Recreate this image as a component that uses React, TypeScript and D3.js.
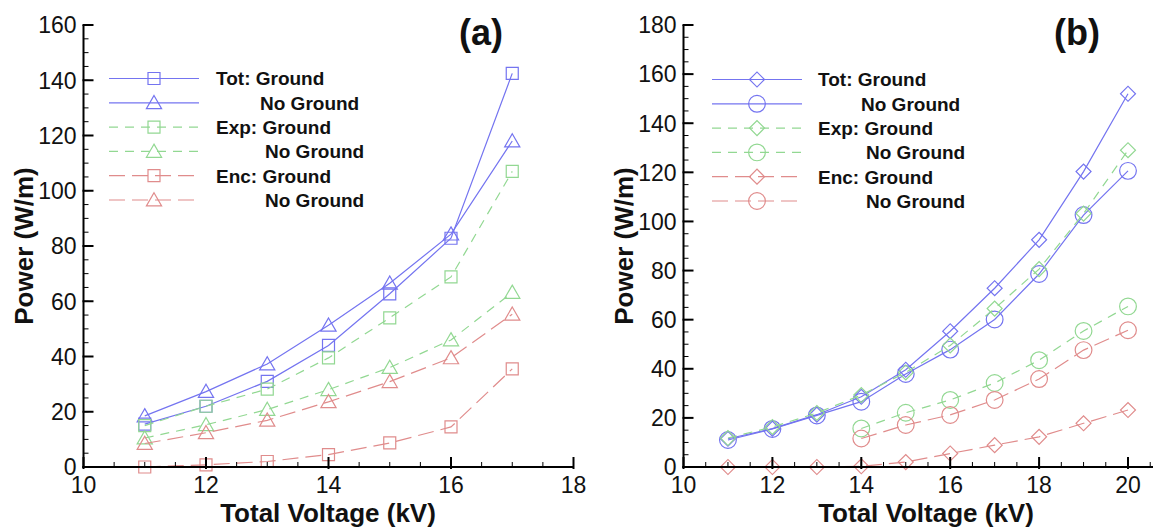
import React from 'react';
import * as d3 from 'd3';

// ---------- Data: panel (a) ----------
const voltageA = [11, 12, 13, 14, 15, 16, 17];
const totGroundA = [15.5, 22, 31, 44, 62.7, 82.8, 142.5];
const totNoGroundA = [18.5, 27.3, 37.3, 51.3, 66.5, 84.3, 118];
const expGroundA = [15, 22, 28.2, 39.5, 54, 68.8, 107];
const expNoGroundA = [10.5, 15.3, 20.8, 28, 36, 46, 63.2];
const encGroundA = [0, 0.8, 2, 4.5, 8.7, 14.5, 35.5];
const encNoGroundA = [8.5, 12.4, 16.9, 23.6, 30.9, 39.5, 55.3];

// ---------- Data: panel (b) ----------
const voltageB = [11, 12, 13, 14, 15, 16, 17, 18, 19, 20];
const voltageB2 = [14, 15, 16, 17, 18, 19, 20];
const totGroundB = [11.5, 15.6, 21.3, 28.6, 39.6, 55.3, 72.8, 92.5, 120.3, 152];
const totNoGroundB = [11, 15.5, 21, 26.6, 37.9, 47.8, 60.1, 78.6, 102.6, 120.6];
const expGroundB = [11.8, 16.3, 22, 29.3, 38.5, 49.5, 64.5, 80.6, 103.2, 129];
const expNoGroundB = [15.7, 22.1, 27.3, 34.2, 43.5, 55.4, 65.4];
const encGroundB = [0, 0, 0, 0.3, 2, 5.5, 8.9, 12.3, 17.8, 23.2];
const encNoGroundB = [11.6, 17.1, 21.2, 27.3, 35.8, 47.6, 55.7];

// ---------- Ticks & labels ----------
const xTicksA = [10, 12, 14, 16, 18];
const yTicksA = [0, 20, 40, 60, 80, 100, 120, 140, 160];
const xTicksB = [10, 12, 14, 16, 18, 20];
const yTicksB = [0, 20, 40, 60, 80, 100, 120, 140, 160, 180];
const legendLabels = ['Tot: Ground', 'No Ground', 'Exp: Ground', 'No Ground', 'Enc: Ground', 'No Ground'];
const panelTitles = ['(a)', '(b)'];
const xAxisTitle = 'Total Voltage (kV)';
const yAxisTitle = 'Power (W/m)';

const BLUE = '#7474f0';
const GREEN = '#92d892';
const RED = '#e08c8c';
const FONT = '"Liberation Sans", Arial, Helvetica, sans-serif';

type Shape = 'square' | 'triangle' | 'diamond' | 'circle';
type Series = { x: number[]; y: number[]; color: string; dash: string | null; shape: Shape };

function markerPath(shape: Shape): string {
  if (shape === 'square') return d3.symbol().type(d3.symbolSquare).size(144)() as string;
  if (shape === 'triangle') return d3.symbol().type(d3.symbolTriangle).size(100)() as string;
  if (shape === 'diamond') return d3.symbol().type(d3.symbolSquare).size(112)() as string;
  return d3.symbol().type(d3.symbolCircle).size(220)() as string;
}

function Marker({ shape, color, x, y }: { shape: Shape; color: string; x: number; y: number }) {
  const rot = shape === 'diamond' ? ' rotate(45)' : '';
  const dy = shape === 'triangle' ? 1.5 : 0;
  return (
    <path
      d={markerPath(shape)}
      transform={`translate(${x},${y + dy})${rot}`}
      fill="none"
      stroke={color}
      strokeWidth={1.2}
    />
  );
}

type PanelProps = {
  series: Series[];
  xDomain: [number, number];
  xRange: [number, number];
  yDomain: [number, number];
  yRange: [number, number];
  xTicks: number[];
  yTicks: number[];
  title: string;
  titleX: number;
  legendX: number;
  legendY: number;
  legendTextX: number;
  legendIndent: number[];
  yLabelX: number;
  xLabelX: number;
};

function Panel(p: PanelProps) {
  const x = d3.scaleLinear().domain(p.xDomain).range(p.xRange);
  const y = d3.scaleLinear().domain(p.yDomain).range(p.yRange);
  const x0 = x(p.xDomain[0]);
  const y0 = y(0);
  const xMinor = d3.range(p.xDomain[0], p.xDomain[1] + 0.001, 0.5);
  const yMinor = d3.range(p.yDomain[0], p.yDomain[1] + 0.001, 5);
  const line = d3
    .line<[number, number]>()
    .x((d) => x(d[0]))
    .y((d) => y(d[1]));
  const legendStep = 24.3;
  return (
    <g>
      {/* series */}
      {p.series.map((s, i) => {
        const pts: [number, number][] = s.x.map((v, j) => [v, s.y[j]]);
        return (
          <g key={i}>
            <path d={line(pts) as string} fill="none" stroke={s.color} strokeWidth={1.2} strokeDasharray={s.dash || undefined} />
            {pts.map((d, j) => (
              <Marker key={j} shape={s.shape} color={s.color} x={x(d[0])} y={y(d[1])} />
            ))}
          </g>
        );
      })}
      {/* axes */}
      <line x1={x0} x2={x0} y1={y(p.yDomain[1])} y2={y0 + 1} stroke="#000" strokeWidth={2} />
      <line x1={x0 - 1} x2={p.xRange[1]} y1={y0} y2={y0} stroke="#000" strokeWidth={2} />
      {yMinor.map((v, i) => (
        <line key={'ym' + i} x1={x0} x2={x0 + 5} y1={y(v)} y2={y(v)} stroke="#000" strokeWidth={1} />
      ))}
      {p.yTicks.map((v, i) => (
        <g key={'yt' + i}>
          <line x1={x0 - 1} x2={x0 + 10} y1={y(v)} y2={y(v)} stroke="#000" strokeWidth={2} />
          <text x={x0 - 7} y={y(v)} dy="0.36em" textAnchor="end" fontSize={23} fontFamily={FONT} fill="#111">
            {v}
          </text>
        </g>
      ))}
      {xMinor.filter((v) => x(v) <= p.xRange[1]).map((v, i) => (
        <line key={'xm' + i} x1={x(v)} x2={x(v)} y1={y0} y2={y0 - 5} stroke="#000" strokeWidth={1} />
      ))}
      {p.xTicks.map((v, i) => (
        <g key={'xt' + i}>
          <line x1={x(v)} x2={x(v)} y1={y0 + 2} y2={y0 - 10} stroke="#000" strokeWidth={2} />
          <text x={x(v)} y={y0 + 26} textAnchor="middle" fontSize={23} fontFamily={FONT} fill="#111">
            {v}
          </text>
        </g>
      ))}
      {/* axis titles */}
      <text x={p.xLabelX} y={y0 + 55} textAnchor="middle" fontSize={26} fontWeight="bold" fontFamily={FONT} fill="#111">
        {xAxisTitle}
      </text>
      <text
        transform={`translate(${p.yLabelX},${(y(p.yDomain[1]) + y0) / 2}) rotate(-90)`}
        textAnchor="middle"
        fontSize={26}
        fontWeight="bold"
        fontFamily={FONT}
        fill="#111"
      >
        {yAxisTitle}
      </text>
      {/* panel title */}
      <text x={p.titleX} y={45} textAnchor="middle" fontSize={36} fontWeight="bold" fontFamily={FONT} fill="#111">
        {p.title}
      </text>
      {/* legend */}
      {p.series.map((s, i) => {
        const ly = p.legendY + i * legendStep;
        return (
          <g key={'lg' + i}>
            <line x1={p.legendX} x2={p.legendX + 90} y1={ly} y2={ly} stroke={s.color} strokeWidth={1.2} strokeDasharray={s.dash || undefined} />
            <Marker shape={s.shape} color={s.color} x={p.legendX + 45} y={ly} />
            <text x={p.legendTextX + p.legendIndent[i]} y={ly} dy="0.36em" fontSize={19} fontWeight="bold" fontFamily={FONT} fill="#111">
              {legendLabels[i]}
            </text>
          </g>
        );
      })}
    </g>
  );
}

export default function App() {
  const greenDash = '9,7';
  const redDash = '16,7';
  const seriesA: Series[] = [
    { x: voltageA, y: totGroundA, color: BLUE, dash: null, shape: 'square' },
    { x: voltageA, y: totNoGroundA, color: BLUE, dash: null, shape: 'triangle' },
    { x: voltageA, y: expGroundA, color: GREEN, dash: greenDash, shape: 'square' },
    { x: voltageA, y: expNoGroundA, color: GREEN, dash: greenDash, shape: 'triangle' },
    { x: voltageA, y: encGroundA, color: RED, dash: redDash, shape: 'square' },
    { x: voltageA, y: encNoGroundA, color: RED, dash: redDash, shape: 'triangle' },
  ];
  const seriesB: Series[] = [
    { x: voltageB, y: totGroundB, color: BLUE, dash: null, shape: 'diamond' },
    { x: voltageB, y: totNoGroundB, color: BLUE, dash: null, shape: 'circle' },
    { x: voltageB, y: expGroundB, color: GREEN, dash: greenDash, shape: 'diamond' },
    { x: voltageB2, y: expNoGroundB, color: GREEN, dash: greenDash, shape: 'circle' },
    { x: voltageB, y: encGroundB, color: RED, dash: redDash, shape: 'diamond' },
    { x: voltageB2, y: encNoGroundB, color: RED, dash: redDash, shape: 'circle' },
  ];
  return (
    <svg
      width={1153}
      height={529}
      style={{ position: 'absolute', left: 0, top: 0, background: '#fff' }}
    >
      <rect width={1153} height={529} fill="#fff" />
      <Panel
        series={seriesA}
        xDomain={[10, 18]}
        xRange={[83.5, 573.5]}
        yDomain={[0, 160]}
        yRange={[467, 25]}
        xTicks={xTicksA}
        yTicks={yTicksA}
        title={panelTitles[0]}
        titleX={481}
        legendX={109}
        legendY={78.5}
        legendTextX={216}
        legendIndent={[0, 44, 0, 49, 0, 49]}
        yLabelX={33}
        xLabelX={328}
      />
      <Panel
        series={seriesB}
        xDomain={[10, 20.6]}
        xRange={[683.5, 683.5 + 10.6 * 44.45]}
        yDomain={[0, 180]}
        yRange={[467, 25]}
        xTicks={xTicksB}
        yTicks={yTicksB}
        title={panelTitles[1]}
        titleX={1077}
        legendX={712}
        legendY={79.5}
        legendTextX={818}
        legendIndent={[0, 43, 0, 48, 0, 48]}
        yLabelX={633}
        xLabelX={926}
      />
    </svg>
  );
}
